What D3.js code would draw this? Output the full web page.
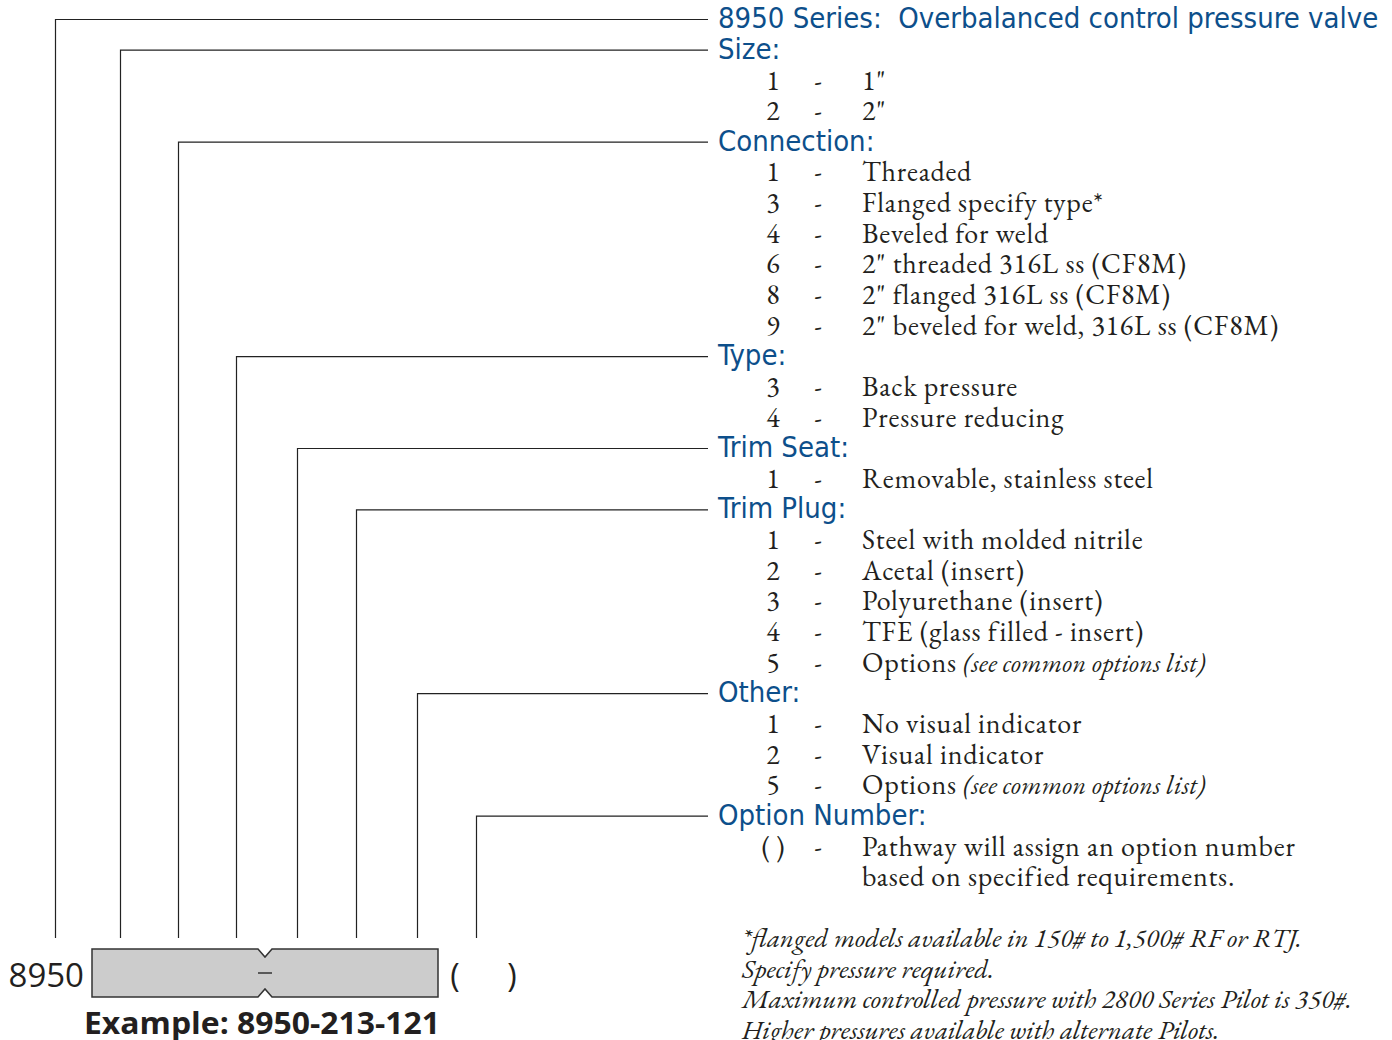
<!DOCTYPE html>
<html>
<head>
<meta charset="utf-8">
<script src="https://cdn.jsdelivr.net/npm/d3@7"></script>
<style>
  body { margin: 0; background: #fff; }
  svg { display: block; }
</style>
</head>
<body>
<svg id="chart" width="1392" height="1040"></svg>
<script>
// Section headers (row index in the list, label)
const headers = [
    { row: 0, label: "8950 Series:  Overbalanced control pressure valve" },
    { row: 1, label: "Size:" },
    { row: 4, label: "Connection:" },
    { row: 11, label: "Type:" },
    { row: 14, label: "Trim Seat:" },
    { row: 16, label: "Trim Plug:" },
    { row: 22, label: "Other:" },
    { row: 26, label: "Option Number:" }
];

// Option rows: code, description, optional italic note
const items = [
    { row: 2, code: "1", text: "1\"" },
    { row: 3, code: "2", text: "2\"" },
    { row: 5, code: "1", text: "Threaded" },
    { row: 6, code: "3", text: "Flanged specify type*" },
    { row: 7, code: "4", text: "Beveled for weld" },
    { row: 8, code: "6", text: "2\" threaded 316L ss (CF8M)" },
    { row: 9, code: "8", text: "2\" flanged 316L ss (CF8M)" },
    { row: 10, code: "9", text: "2\" beveled for weld, 316L ss (CF8M)" },
    { row: 12, code: "3", text: "Back pressure" },
    { row: 13, code: "4", text: "Pressure reducing" },
    { row: 15, code: "1", text: "Removable, stainless steel" },
    { row: 17, code: "1", text: "Steel with molded nitrile" },
    { row: 18, code: "2", text: "Acetal (insert)" },
    { row: 19, code: "3", text: "Polyurethane (insert)" },
    { row: 20, code: "4", text: "TFE (glass filled - insert)" },
    { row: 21, code: "5", text: "Options ", note: "(see common options list)" },
    { row: 23, code: "1", text: "No visual indicator" },
    { row: 24, code: "2", text: "Visual indicator" },
    { row: 25, code: "5", text: "Options ", note: "(see common options list)" },
    { row: 27, code: "( )", text: "Pathway will assign an option number" },
    { row: 28, code: "", text: "based on specified requirements.", dash: false }
];

const footnotes = [
    "*flanged models available in 150# to 1,500# RF or RTJ.",
    "Specify pressure required.",
    "Maximum controlled pressure with 2800 Series Pilot is 350#.",
    "Higher pressures available with alternate Pilots."
];

const modelPrefix = "8950";
const exampleLabel = "Example: 8950-213-121";

const blue = "#0d4f8b";
const serif = "'EB Garamond', 'Liberation Serif', 'DejaVu Serif', serif";
const sans = "'Liberation Sans Narrow', 'DejaVu Sans Condensed', 'Roboto Condensed', 'Open Sans', sans-serif";

const svg = d3.select("#chart");

// row index -> vertical centre of the text line
const y = d3.scaleLinear().domain([0, 28]).range([19, 877]);

// x of each leader's vertical drop, one per header
const leaderX = [55, 120, 178, 236, 297, 356, 417, 476];
const lineEnd = 708;
const boxTop = 949, boxBottom = 997;

// Leader lines
const leaders = svg.append("g")
    .attr("fill", "none")
    .attr("stroke", "#222")
    .attr("stroke-width", 1.2);

headers.forEach((h, i) => {
    leaders.append("path")
        .attr("d", `M${lineEnd},${y(h.row) + 0.5}H${leaderX[i] + 0.5}V${boxTop - 11}`);
});

// Header labels
svg.append("g").selectAll("text")
    .data(headers)
    .join("text")
    .attr("x", 718)
    .attr("y", d => y(d.row) - 1.5)
    .attr("dy", "0.36em")
    .attr("xml:space", "preserve")
    .attr("font-family", sans)
    .attr("font-stretch", "condensed")
    .attr("font-size", 29)
    .attr("fill", blue)
    .text(d => d.label);

// Option rows
const rows = svg.append("g")
    .attr("font-family", serif)
    .attr("font-size", 28)
    .attr("fill", "#231f20");

items.forEach(d => {
    const cy = y(d.row);
    rows.append("text")
        .attr("x", 773).attr("y", cy).attr("dy", "0.33em")
        .attr("text-anchor", "middle")
        .text(d.code);
    if (d.dash !== false) {
        rows.append("text")
            .attr("x", 818).attr("y", cy).attr("dy", "0.33em")
            .attr("text-anchor", "middle")
            .text("-");
    }
    const t = rows.append("text")
        .attr("x", 862).attr("y", cy).attr("dy", "0.33em")
        .attr("letter-spacing", 0.8)
        .attr("xml:space", "preserve");
    t.append("tspan").text(d.text);
    if (d.note) {
        t.append("tspan")
            .attr("font-style", "italic")
            .attr("font-size", 26)
            .attr("letter-spacing", 0.3)
            .text(d.note);
    }
});

// Footnotes
svg.append("g").selectAll("text")
    .data(footnotes)
    .join("text")
    .attr("x", 742)
    .attr("y", (d, i) => 938 + i * 30.7)
    .attr("dy", "0.33em")
    .attr("font-family", serif)
    .attr("font-style", "italic")
    .attr("font-size", 27)
    .attr("fill", "#231f20")
    .text(d => d);

// Model number box with notches
const bx0 = 92, bx1 = 438, nx = 265, nw = 7, nd = 8;
const boxPath = d3.path();
boxPath.moveTo(bx0, boxTop);
boxPath.lineTo(nx - nw, boxTop);
boxPath.lineTo(nx, boxTop + nd);
boxPath.lineTo(nx + nw, boxTop);
boxPath.lineTo(bx1, boxTop);
boxPath.lineTo(bx1, boxBottom);
boxPath.lineTo(nx + nw, boxBottom);
boxPath.lineTo(nx, boxBottom - nd);
boxPath.lineTo(nx - nw, boxBottom);
boxPath.lineTo(bx0, boxBottom);
boxPath.closePath();

svg.append("path")
    .attr("d", boxPath.toString())
    .attr("fill", "#cccccc")
    .attr("stroke", "#333")
    .attr("stroke-width", 1.5);

svg.append("line")
    .attr("x1", nx - 7).attr("x2", nx + 7)
    .attr("y1", 973).attr("y2", 973)
    .attr("stroke", "#333").attr("stroke-width", 1.5);

const label = svg.append("g")
    .attr("font-family", "'Open Sans', 'DejaVu Sans', sans-serif")
    .attr("fill", "#231f20");

label.append("text")
    .attr("x", 84).attr("y", 975).attr("dy", "0.36em")
    .attr("text-anchor", "end")
    .attr("font-size", 33)
    .text(modelPrefix);

label.append("text")
    .attr("x", 455).attr("y", 975).attr("dy", "0.36em")
    .attr("text-anchor", "middle")
    .attr("font-size", 32)
    .text("(");

label.append("text")
    .attr("x", 512).attr("y", 975).attr("dy", "0.36em")
    .attr("text-anchor", "middle")
    .attr("font-size", 32)
    .text(")");

label.append("text")
    .attr("x", 84).attr("y", 1023).attr("dy", "0.36em")
    .attr("font-size", 31)
    .attr("font-weight", "bold")
    .attr("textLength", 356)
    .attr("lengthAdjust", "spacingAndGlyphs")
    .text(exampleLabel);
</script>
</body>
</html>
